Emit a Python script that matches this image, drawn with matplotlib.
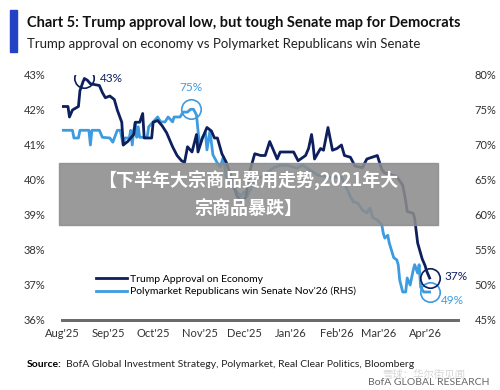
import numpy as np
import pandas as pd
import matplotlib
matplotlib.use("Agg")
import matplotlib.pyplot as plt
from matplotlib.patches import Rectangle

plt.rcParams['font.family'] = ['Lato', 'Noto Sans CJK SC', 'DejaVu Sans']

start = pd.Timestamp("2025-08-01")

# Trump approval on economy (LHS), day offset from 1 Aug 2025
trump_days = [0, 4, 5, 7, 11, 12, 14, 15, 17, 19, 25, 27, 29, 32, 35, 37, 40, 41, 44, 48,
              49, 52, 54, 55, 60, 61, 64, 67, 70, 72, 74, 77, 80, 82, 84, 87, 90, 91, 94, 97,
              100, 102, 104, 107, 110, 114, 117, 120, 123, 126, 129, 133, 136, 139, 141, 144,
              146, 155, 158, 163, 165, 167, 168, 169, 173, 175, 178, 181, 184, 187, 189, 193,
              196, 201, 204, 211, 214, 216, 224, 228, 230, 231, 235, 236, 238, 240, 241, 243,
              244, 246]
trump_vals = [42.1, 42.1, 41.8, 42.0, 42.1, 42.55, 42.8, 42.9, 42.85, 42.75, 42.7, 42.5, 42.35,
              42.4, 42.3, 42.0, 41.65, 41.0, 41.1, 41.3, 41.65, 41.65, 41.9, 41.2, 41.2, 41.65,
              41.7, 41.55, 41.35, 41.15, 40.95, 40.7, 40.55, 40.5, 40.95, 40.8, 41.3, 40.8, 41.2,
              41.5, 41.4, 41.2, 41.2, 40.75, 40.5, 40.0, 39.55, 39.4, 39.5, 40.3, 40.75, 40.7,
              40.7, 41.1, 40.9, 40.6, 40.8, 40.8, 40.55, 40.7, 40.9, 41.3, 41.0, 40.6, 40.9,
              40.85, 41.5, 40.85, 40.9, 41.0, 40.7, 40.65, 40.4, 40.35, 40.6, 40.7, 40.3, 40.2,
              40.1, 39.85, 39.4, 39.1, 39.05, 38.9, 38.2, 37.9, 37.75, 37.55, 37.4, 37.2]

# Polymarket Republicans win Senate Nov'26 (RHS)
poly_days = [0, 7, 8, 11, 12, 18, 19, 20, 25, 27, 32, 34, 37, 39, 41, 42, 45, 46, 47, 48,
             49, 50, 51, 52, 57, 58, 61, 64, 66, 69, 71, 74, 75, 79, 81, 84, 86, 88, 90, 91,
             92, 94, 96, 97, 99, 101, 104, 106, 108, 110, 114, 117, 120, 122, 124, 129, 136,
             141, 146, 151, 157, 161, 164, 171, 179, 187, 191, 193, 195, 198, 201, 204, 206,
             208, 211, 214, 215, 216, 218, 219, 222, 224, 225, 226, 228, 230, 231, 233, 235,
             236, 238, 239, 240, 242, 246]
poly_vals = [72.1, 72.1, 71.0, 71.0, 72.1, 72.1, 70.0, 72.1, 72.1, 71.1, 71.0, 70.4, 72.1,
             72.1, 70.0, 71.0, 71.0, 72.1, 70.0, 72.1, 73.1, 71.1, 72.6, 71.1, 71.1, 72.6,
             73.3, 74.0, 73.3, 73.3, 74.0, 73.3, 74.0, 74.0, 74.7, 74.7, 75.1, 75.1, 74.3,
             72.1, 70.0, 71.1, 71.7, 69.3, 72.0, 68.6, 67.4, 66.9, 68.3, 65.4, 64.0, 63.3,
             62.7, 63.3, 62.7, 65.0, 65.7, 66.7, 67.1, 67.1, 66.7, 67.1, 66.7, 65.7, 65.4,
             65.4, 63.6, 62.6, 61.9, 61.7, 60.7, 60.3, 61.0, 59.6, 59.3, 58.6, 57.4, 56.7,
             57.1, 56.0, 53.9, 53.6, 52.9, 50.7, 49.0, 49.0, 51.0, 50.0, 52.1, 52.9, 51.7,
             52.9, 49.7, 49.0, 49.0]

month_ticks = ["2025-08-01", "2025-09-01", "2025-10-01", "2025-11-01", "2025-12-01",
               "2026-01-01", "2026-02-01", "2026-03-01", "2026-04-01"]
month_labels = ["Aug'25", "Sep'25", "Oct'25", "Nov'25", "Dec'25", "Jan'26", "Feb'26",
                "Mar'26", "Apr'26"]

dark = "#0d1f5c"
light = "#3d9be0"

trump_x = start + pd.to_timedelta(trump_days, unit="D")
poly_x = start + pd.to_timedelta(poly_days, unit="D")

fig = plt.figure(figsize=(5, 3.9), dpi=100)
ax = fig.add_axes([0.124, 0.1795, 0.792, 0.6282])
ax2 = ax.twinx()

ax.plot(trump_x, trump_vals, color=dark, lw=2, zorder=3, label="Trump Approval on Economy")
ax2.plot(poly_x, poly_vals, color=light, lw=2, zorder=2,
         label="Polymarket Republicans win Senate Nov'26 (RHS)")
ax.set_zorder(ax2.get_zorder() + 1)
ax.patch.set_visible(False)

ax.set_ylim(36, 43)
ax2.set_ylim(45, 80)
ax.set_xlim(start, start + pd.Timedelta(days=265))
ax.set_yticks(range(36, 44))
ax.set_yticklabels([f"{v}%" for v in range(36, 44)])
ax2.set_yticks(range(45, 81, 5))
ax2.set_yticklabels([f"{v}%" for v in range(45, 81, 5)])
ax.set_xticks(pd.to_datetime(month_ticks))
ax.set_xticklabels(month_labels)

for a in (ax, ax2):
    for s in ("top", "left", "right"):
        a.spines[s].set_visible(False)
    a.spines["bottom"].set_color("#6b6b6b")
    a.spines["bottom"].set_linewidth(2)
    a.tick_params(length=0, labelsize=8, colors="#333333")
ax.tick_params(axis="y", pad=12)
ax2.tick_params(axis="y", pad=12)
ax.tick_params(axis="x", pad=6)

# highlighted points
i_max = int(np.argmax(trump_vals))
p_max = int(np.argmax(poly_vals))
ax.plot(trump_x[i_max], trump_vals[i_max], "o", ms=14, mfc="none", mec=dark, mew=1.2, zorder=4)
ax.annotate("43%", (trump_x[i_max], trump_vals[i_max]), xytext=(11, 0),
            textcoords="offset points", color=dark, fontsize=8.5, va="center")
ax2.plot(poly_x[p_max], poly_vals[p_max], "o", ms=14, mfc="none", mec=light, mew=1.2)
ax2.annotate("75%", (poly_x[p_max], poly_vals[p_max]), xytext=(0, 13),
             textcoords="offset points", color=light, fontsize=8.5, ha="center")
ax.plot(trump_x[-1], trump_vals[-1], "o", ms=14, mfc="none", mec=dark, mew=1.2, zorder=4)
ax.annotate("37%", (trump_x[-1], trump_vals[-1]), xytext=(11, 1),
            textcoords="offset points", color=dark, fontsize=8.5, va="center")
ax2.plot(poly_x[-1], poly_vals[-1], "o", ms=14, mfc="none", mec=light, mew=1.2)
ax2.annotate("49%", (poly_x[-1], poly_vals[-1]), xytext=(8, -6),
             textcoords="offset points", color=light, fontsize=8.5, va="center")

h1, l1 = ax.get_legend_handles_labels()
h2, l2 = ax2.get_legend_handles_labels()
ax.legend(h1 + h2, l1 + l2, loc="lower left", bbox_to_anchor=(0.075, 0.08), frameon=False,
          fontsize=7.5, handlelength=3, handletextpad=0.3, labelspacing=0.3,
          borderaxespad=0)

# title block
fig.add_artist(Rectangle((0.02, 0.867), 0.014, 0.108, transform=fig.transFigure,
                         color="#2343c4"))
fig.text(0.054, 0.94, "Chart 5: Trump approval low, but tough Senate map for Democrats",
         fontsize=10.5, fontweight="bold", va="center", color="#111111")
fig.text(0.054, 0.887, "Trump approval on economy vs Polymarket Republicans win Senate",
         fontsize=9.5, va="center", color="#222222")

fig.text(0.054, 0.066, "Source:", fontsize=7.5, fontweight="bold", va="center")
fig.text(0.132, 0.066, "BofA Global Investment Strategy, Polymarket, Real Clear Politics, Bloomberg",
         fontsize=7.5, va="center", color="#222222")
fig.text(0.98, 0.018, "BofA GLOBAL RESEARCH", fontsize=7.5, ha="right", va="center",
         color="#666666")
fig.text(0.93, 0.039, "雪球：华尔街见闻", fontsize=7.5, ha="right", va="center",
         color="#cccccc", alpha=0.8)

# overlay banner
fig.add_artist(Rectangle((0.118, 1 - 225 / 390), 0.758, 62 / 390, transform=fig.transFigure,
                         color="#8c8c8c", alpha=0.88, zorder=10))
fig.text(0.497, 1 - 181 / 390, "【下半年大宗商品费用走势,2021年大", fontsize=13,
         fontweight="bold", color="white", ha="center", va="center", zorder=11,
         family=["Noto Sans CJK SC", "DejaVu Sans"])
fig.text(0.497, 1 - 208 / 390, "宗商品暴跌】", fontsize=13,
         fontweight="bold", color="white", ha="center", va="center", zorder=11,
         family=["Noto Sans CJK SC", "DejaVu Sans"])

fig.savefig("out.png", dpi=100)
